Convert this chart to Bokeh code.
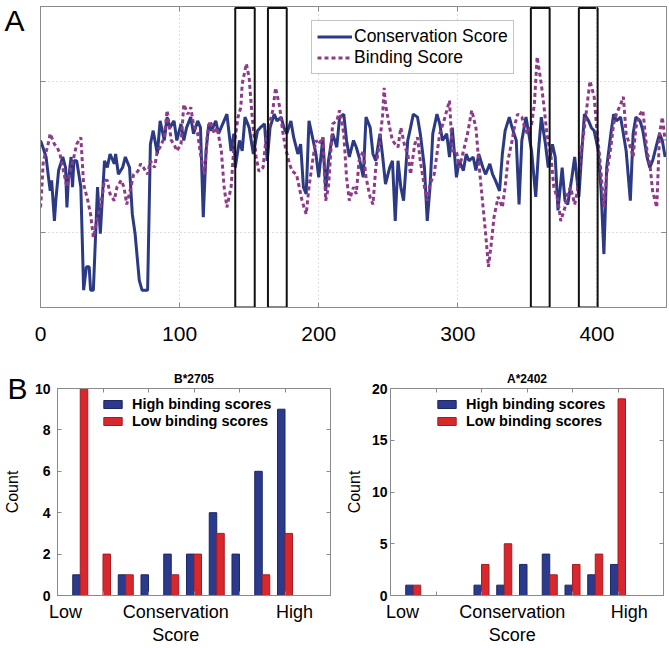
from bokeh.plotting import figure
from bokeh.models import (Range1d, FixedTicker, LinearAxis, Legend, LegendItem,
                          ColumnDataSource)
from bokeh.layouts import column, row
from bokeh.transform import dodge
from bokeh.embed import file_html
from bokeh.resources import INLINE

FONT = "Liberation Sans"

# ---------------- Panel A data ----------------
cons_x = [0, 1, 4, 6, 7, 8, 10, 11, 13, 16, 18, 19, 20, 22, 23, 24, 26, 29, 31, 33, 35, 36, 38, 41, 43,
          46, 48, 50, 53, 54, 56, 59, 61, 64, 66, 68, 71, 73, 77, 79, 81, 84, 86, 89, 91, 93, 96, 98,
          101, 103, 105, 108, 110, 113, 115, 117, 119, 121, 123, 126, 128, 131, 134, 137, 139, 140,
          143, 145, 147, 150, 153, 156, 158, 161, 163, 165, 168, 170, 173, 175, 177, 180, 182, 185,
          187, 189, 191, 193, 196, 198, 200, 203, 205, 207, 210, 213, 215, 218, 220, 222, 225, 227,
          229, 232, 234, 237, 239, 241, 244, 246, 248, 251, 253, 255, 257, 259, 261, 264, 266, 268,
          271, 273, 276, 278, 280, 282, 285, 287, 289, 292, 294, 296, 299, 301, 304, 306, 308, 311,
          313, 315, 318, 320, 323, 325, 327, 330, 332, 334, 337, 339, 342, 344, 346, 349, 351, 353,
          356, 358, 360, 363, 365, 368, 370, 372, 375, 377, 379, 382, 384, 387, 389, 391, 394, 396,
          398, 401, 403, 405, 407, 410, 412, 414, 417, 419, 421, 424, 426, 428, 431, 433, 436, 438,
          440, 443, 445, 447, 449]
cons_y = [2.22, 2.17, 2.0, 1.69, 1.55, 1.69, 1.15, 1.42, 1.82, 2.0, 1.86, 1.33, 1.69, 2.0, 1.6, 1.95,
          1.95, 1.6, 0.23, 0.54, 0.54, 0.23, 0.23, 1.6, 0.98, 1.95, 1.86, 2.04, 1.91, 2.04, 1.77, 1.86,
          2.0, 1.86, 1.24, 0.98, 0.36, 0.23, 0.23, 2.17, 2.35, 2.04, 2.48, 2.22, 2.53, 2.39, 2.48, 2.22,
          2.44, 2.22, 2.39, 2.53, 2.31, 2.48, 2.39, 1.2, 2.08, 2.44, 2.35, 2.48, 2.31, 2.44, 2.57, 2.08,
          2.31, 1.86, 2.22, 2.08, 2.53, 2.39, 2.04, 2.35, 2.39, 2.44, 1.95, 2.39, 2.57, 2.48, 2.53, 2.39,
          2.31, 2.48, 2.26, 2.04, 2.17, 1.6, 1.51, 2.48, 2.22, 2.04, 1.73, 2.26, 1.55, 1.95, 2.31, 2.13,
          2.53, 2.57, 2.22, 2.0, 2.22, 2.13, 2.0, 1.73, 2.53, 2.39, 2.04, 1.95, 2.31, 2.0, 1.64, 1.86,
          1.95, 1.15, 1.95, 1.6, 1.42, 2.22, 2.39, 2.57, 2.53, 2.31, 1.86, 1.15, 1.6, 2.31, 2.57, 2.44,
          2.22, 2.31, 2.0, 2.39, 1.73, 1.95, 1.82, 2.04, 1.95, 2.0, 1.82, 2.04, 1.86, 1.77, 1.91, 1.77,
          1.69, 1.55, 2.04, 2.35, 2.53, 2.39, 2.22, 1.37, 2.22, 2.53, 2.31, 2.08, 1.47, 2.08, 2.53, 2.17,
          1.86, 2.17, 2.0, 1.29, 1.86, 1.42, 1.37, 1.73, 2.0, 1.47, 2.04, 2.57, 2.48, 2.39, 2.35, 2.08,
          1.55, 0.71, 1.86, 2.31, 2.57, 2.48, 2.53, 2.31, 2.08, 1.42, 2.31, 2.53, 2.48, 2.35, 2.0, 1.86,
          1.95, 2.17, 2.31, 2.22, 2.0]

bind_x = [0, 1, 2, 5, 7, 10, 12, 14, 17, 19, 22, 24, 26, 29, 31, 34, 36, 38, 41, 43, 46, 48, 50, 53,
          55, 58, 60, 62, 65, 67, 70, 72, 74, 77, 79, 82, 84, 86, 89, 91, 94, 96, 98, 101, 103, 106,
          108, 110, 113, 115, 118, 120, 122, 125, 127, 130, 132, 134, 137, 139, 142, 144, 145, 148,
          150, 152, 155, 157, 160, 162, 164, 167, 169, 172, 174, 176, 179, 181, 184, 186, 188, 191,
          193, 196, 198, 200, 203, 205, 207, 210, 213, 215, 218, 220, 222, 225, 227, 229, 232, 234,
          237, 239, 241, 244, 246, 247, 248, 251, 253, 255, 257, 259, 262, 264, 266, 269, 271, 273,
          276, 278, 280, 283, 285, 287, 290, 294, 296, 299, 301, 303, 307, 310, 313, 315, 317, 320,
          322, 324, 326, 329, 332, 334, 336, 339, 341, 343, 346, 348, 350, 353, 355, 357, 360, 362,
          364, 367, 369, 372, 374, 377, 379, 381, 384, 386, 388, 391, 393, 395, 398, 400, 402, 405,
          407, 410, 412, 414, 417, 419, 421, 424, 426, 428, 431, 433, 436, 438, 440, 443, 445, 447, 449]
bind_y = [1.33, 1.6, 1.95, 2.13, 2.31, 2.17, 2.13, 2.04, 1.77, 1.6, 1.86, 2.0, 2.17, 2.26, 1.64, 1.42,
          1.24, 0.93, 1.2, 1.33, 1.69, 1.69, 1.51, 1.42, 1.6, 1.69, 1.6, 1.37, 1.6, 1.77, 1.81, 1.91,
          1.86, 1.77, 1.95, 1.86, 2.08, 2.13, 2.26, 2.62, 2.22, 2.17, 2.08, 2.17, 2.7, 2.57, 2.66, 2.43,
          2.31, 2.04, 1.77, 2.31, 2.48, 2.31, 2.39, 2.08, 1.6, 1.33, 1.6, 2.13, 2.53, 2.66, 2.97, 3.24,
          3.05, 2.57, 2.0, 1.81, 1.86, 2.22, 2.4, 2.62, 2.92, 2.66, 2.35, 2.13, 1.91, 1.81, 1.77, 1.6,
          1.42, 1.24, 1.6, 2.0, 2.22, 2.17, 2.26, 1.42, 1.6, 2.44, 2.48, 2.62, 2.31, 1.73, 1.42, 1.6,
          1.51, 1.95, 2.08, 1.73, 1.46, 1.37, 1.86, 2.22, 2.57, 2.92, 2.7, 2.39, 2.22, 2.17, 2.13, 2.39,
          2.13, 2.04, 1.77, 2.17, 2.26, 1.95, 1.6, 1.42, 1.64, 1.77, 2.04, 2.31, 2.48, 2.75, 2.08, 2.08,
          1.86, 2.0, 2.31, 2.62, 2.39, 1.95, 1.55, 0.98, 0.54, 0.84, 1.2, 1.47, 1.33, 1.6, 1.95, 2.22,
          2.43, 2.57, 2.53, 2.39, 2.31, 2.43, 2.7, 3.33, 2.97, 2.66, 2.31, 2.0, 1.6, 1.42, 1.15, 1.33,
          1.51, 1.6, 1.37, 1.55, 1.99, 2.39, 2.7, 3.01, 2.8, 2.35, 2.0, 1.33, 1.77, 2.13, 2.44, 2.57,
          2.7, 2.8, 2.31, 2.13, 2.0, 2.39, 2.57, 2.62, 2.08, 1.91, 1.55, 1.33, 2.31, 2.53, 2.22]

box_starts = [140, 163.5, 352.5, 387]
box_ends = [154, 177, 366, 400.5]

a_xticks = [0, 100, 200, 300, 400]
a_yticks = [1, 3]

# ---------------- Panel B data ----------------
bins = [1, 2, 3, 4, 5, 6, 7, 8, 9, 10]
b2705_high = [1, 0, 1, 1, 2, 2, 4, 2, 6, 9]
b2705_low = [10, 2, 1, 0, 1, 2, 3, 0, 1, 3]
a2402_high = [1, 0, 0, 1, 1, 3, 4, 1, 2, 3]
a2402_low = [1, 0, 0, 3, 5, 0, 2, 3, 4, 19]
b2705_yticks = [0, 2, 4, 6, 8, 10]
a2402_yticks = [0, 5, 10, 15, 20]
bar_xticks = [2, 4, 6, 8, 10]

LINE_BLUE = "#2C3A84"
PURPLE = "#8E3A88"
BAR_BLUE = "#2B3A8A"
BAR_BLUE_EDGE = "#1D2866"
BAR_RED = "#D8282E"
BAR_RED_EDGE = "#A51D22"
FRAME = "#8a8a8a"


def blank_axis(ticks, tick_len=4):
    """Mirrored axis: inward ticks only, no labels."""
    return LinearAxis(ticker=FixedTicker(ticks=ticks),
                      major_label_overrides={t: "" for t in ticks},
                      major_label_text_font_size="1px", major_label_standoff=0,
                      major_tick_in=tick_len, major_tick_out=0, minor_tick_line_color=None,
                      axis_line_color=FRAME, major_tick_line_color=FRAME)


def text_axis(ticks, labels, size, standoff, weight="normal"):
    """Axis used only to carry text labels outside the frame."""
    return LinearAxis(ticker=FixedTicker(ticks=ticks),
                      major_label_overrides=dict(zip(ticks, labels)),
                      major_label_text_font=FONT, major_label_text_font_size=size,
                      major_label_text_font_style=weight, major_label_text_color="black",
                      major_label_standoff=standoff, major_tick_in=0, major_tick_out=0,
                      minor_tick_in=0, minor_tick_out=0,
                      major_tick_line_color=None, minor_tick_line_color=None,
                      axis_line_color=None)


# ---------------- Panel A ----------------
pA = figure(width=669, height=348, x_range=Range1d(0, 450), y_range=Range1d(0, 4),
            output_backend="svg", toolbar_location=None,
            min_border_left=40, min_border_right=3, min_border_top=6, min_border_bottom=41)
pA.background_fill_color = "white"
pA.border_fill_color = "white"
pA.outline_line_color = FRAME

pA.xaxis.ticker = FixedTicker(ticks=a_xticks)
pA.xaxis.major_label_text_font = FONT
pA.xaxis.major_label_text_font_size = "21px"
pA.xaxis.major_label_text_color = "black"
pA.xaxis.major_label_standoff = 19
pA.xaxis.major_tick_in = 5
pA.xaxis.major_tick_out = 0
pA.xaxis.minor_tick_line_color = None
pA.xaxis.axis_line_color = FRAME
pA.xaxis.major_tick_line_color = FRAME

pA.yaxis.ticker = FixedTicker(ticks=a_yticks)
pA.yaxis.major_label_overrides = {t: "" for t in a_yticks}
pA.yaxis.major_label_text_font_size = "1px"
pA.yaxis.major_label_standoff = 0
pA.yaxis.major_tick_in = 5
pA.yaxis.major_tick_out = 0
pA.yaxis.minor_tick_line_color = None
pA.yaxis.axis_line_color = FRAME
pA.yaxis.major_tick_line_color = FRAME

pA.add_layout(blank_axis(a_xticks, 5), "above")
pA.add_layout(blank_axis(a_yticks, 5), "right")
# panel letter "A" carried by an outer left axis
pA.add_layout(text_axis([3.81], ["A"], "30px", 16), "left")

pA.xgrid.ticker = FixedTicker(ticks=a_xticks)
pA.ygrid.ticker = FixedTicker(ticks=a_yticks)
pA.grid.grid_line_color = "#bdbdbd"
pA.grid.grid_line_dash = "1 3"
pA.grid.grid_line_width = 1

r_cons = pA.line(cons_x, cons_y, line_color=LINE_BLUE, line_width=3)
r_bind = pA.line(bind_x, bind_y, line_color=PURPLE, line_width=3, line_dash="4 3")
pA.quad(left=box_starts, right=box_ends, bottom=0.0, top=3.98, fill_alpha=0,
        line_color="#111111", line_width=2)

legA = Legend(items=[LegendItem(label="Conservation Score", renderers=[r_cons]),
                     LegendItem(label="Binding Score", renderers=[r_bind])],
              location=(271, 233), padding=5, margin=0, spacing=0,
              glyph_width=35, glyph_height=21, label_height=21, label_standoff=2,
              label_text_font=FONT, label_text_font_size="17.5px", label_text_color="black",
              border_line_color=FRAME, border_line_width=1,
              background_fill_color="white", background_fill_alpha=1)
pA.add_layout(legA)


# ---------------- Panel B ----------------
def bar_panel(title, high, low, ymax, yticks, width, border_left,
              tick_standoff, low_x, high_x, cons_x_pos, legend_x):
    p = figure(width=width, height=299, x_range=Range1d(0, 12), y_range=Range1d(0, ymax),
               output_backend="svg", toolbar_location=None,
               min_border_left=border_left, min_border_right=6,
               min_border_top=40, min_border_bottom=50)
    p.background_fill_color = "white"
    p.border_fill_color = "white"
    p.outline_line_color = FRAME
    p.grid.visible = False

    p.title.text = title
    p.title.align = "center"
    p.title.text_font = FONT
    p.title.text_font_size = "12px"
    p.title.text_font_style = "bold"
    p.title.text_color = "black"
    p.title.standoff = 5

    yax = p.yaxis[0]
    yax.ticker = FixedTicker(ticks=yticks)
    yax.major_label_text_font = FONT
    yax.major_label_text_font_size = "14px"
    yax.major_label_text_font_style = "bold"
    yax.major_label_text_color = "black"
    yax.major_label_standoff = tick_standoff
    yax.major_tick_in = 4
    yax.major_tick_out = 0
    yax.minor_tick_line_color = None
    yax.axis_line_color = FRAME
    yax.major_tick_line_color = FRAME

    xax = p.xaxis[0]
    xax.ticker = FixedTicker(ticks=bar_xticks)
    xax.major_label_overrides = {t: "" for t in bar_xticks}
    xax.major_label_text_font_size = "1px"
    xax.major_label_standoff = 0
    xax.major_tick_in = 4
    xax.major_tick_out = 0
    xax.minor_tick_line_color = None
    xax.axis_line_color = FRAME
    xax.major_tick_line_color = FRAME

    p.add_layout(blank_axis(bar_xticks), "above")
    p.add_layout(blank_axis(yticks), "right")
    # "Low  Conservation  High" then "Score" under the frame
    p.add_layout(text_axis([low_x, cons_x_pos, high_x], ["Low", "Conservation", "High"],
                           "18px", 6), "below")
    p.add_layout(text_axis([cons_x_pos], ["Score"], "18px", 0), "below")

    src = ColumnDataSource(dict(bin=bins, high=high, low=low))
    rh = p.vbar(x=dodge("bin", -0.165, range=p.x_range), top="high", bottom=0, width=0.33,
                source=src, fill_color=BAR_BLUE, line_color=BAR_BLUE_EDGE, line_width=1)
    rl = p.vbar(x=dodge("bin", 0.165, range=p.x_range), top="low", bottom=0, width=0.33,
                source=src, fill_color=BAR_RED, line_color=BAR_RED_EDGE, line_width=1)

    leg = Legend(items=[LegendItem(label="High binding scores", renderers=[rh]),
                        LegendItem(label="Low binding scores", renderers=[rl])],
                 location=(legend_x, 166), padding=0, margin=0, spacing=0,
                 glyph_width=23, glyph_height=10, label_height=17, label_standoff=8,
                 label_text_font=FONT, label_text_font_size="14.5px",
                 label_text_font_style="bold", label_text_color="black",
                 border_line_alpha=0, background_fill_alpha=0)
    p.add_layout(leg)
    return p


pB1 = bar_panel("B*2705", b2705_high, b2705_low, 10, b2705_yticks, 336, 57,
                7, 0.35, 10.42, 5.2, 44)
# outer left axis: panel letter "B" at the top, "Count" as its axis label
axB = text_axis([10], ["B"], "30px", 4)
axB.axis_label = "Count"
axB.axis_label_text_font = FONT
axB.axis_label_text_font_size = "16px"
axB.axis_label_text_font_style = "normal"
axB.axis_label_text_color = "black"
axB.axis_label_standoff = -17
pB1.add_layout(axB, "left")

pB2 = bar_panel("A*2402", a2402_high, a2402_low, 20, a2402_yticks, 333, 54,
                3, 0.53, 10.5, 5.35, 45)
yl2 = pB2.left[0]
yl2.axis_label = "Count"
yl2.axis_label_text_font = FONT
yl2.axis_label_text_font_size = "16px"
yl2.axis_label_text_font_style = "normal"
yl2.axis_label_text_color = "black"
yl2.axis_label_standoff = 6

layout = column(pA, row(pB1, pB2))

open("out.html", "w").write(file_html(layout, INLINE))
